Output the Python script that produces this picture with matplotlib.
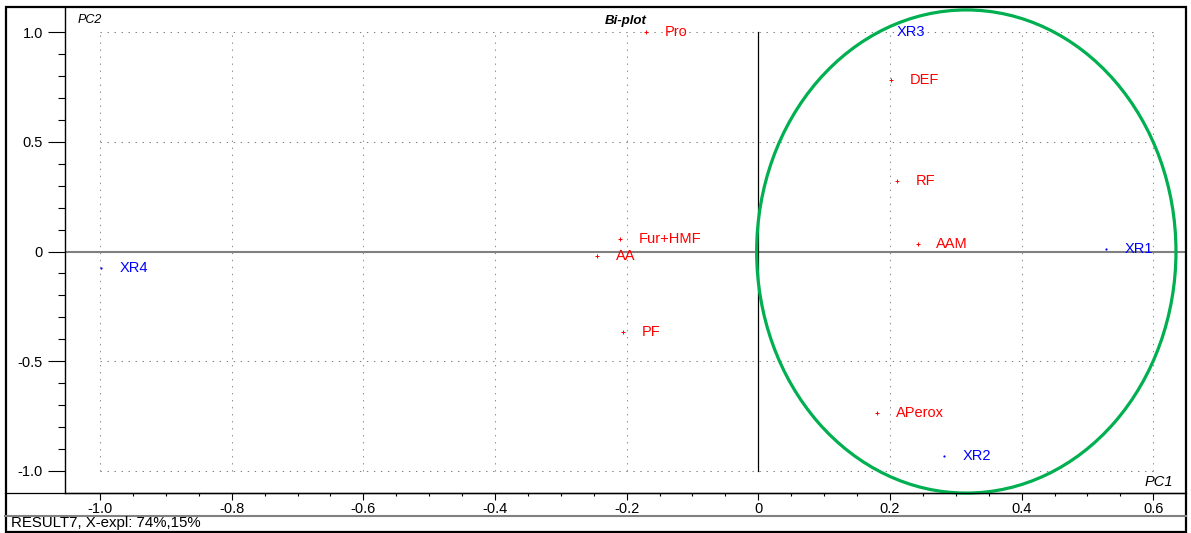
"""
biplot.py — PC1/PC2 bi-plot of variable loadings and sample scores.
"""

import matplotlib
matplotlib.use("Agg")
import matplotlib.pyplot as plt
from matplotlib.patches import Ellipse, Rectangle
from matplotlib.lines import Line2D
from matplotlib.ticker import FixedLocator, FixedFormatter

plt.rcParams["font.family"] = ["Liberation Sans", "DejaVu Sans"]
plt.rcParams["axes.unicode_minus"] = False

# ---------------------------------------------------------------------------
# Data
# ---------------------------------------------------------------------------
var_names = ["Pro", "DEF", "RF", "AAM", "Fur+HMF", "AA", "PF", "APerox"]
var_pc1 = [-0.171, 0.201, 0.211, 0.242, -0.210, -0.245, -0.206, 0.181]
var_pc2 = [1.000, 0.782, 0.322, 0.034, 0.056, -0.021, -0.369, -0.738]

obj_names = ["XR1", "XR2", "XR3", "XR4"]
obj_pc1 = [0.528, 0.282, 0.182, -0.998]
obj_pc2 = [0.010, -0.934, 1.000, -0.077]

x_ticks = [-1.0, -0.8, -0.6, -0.4, -0.2, 0.0, 0.2, 0.4, 0.6]
x_tick_labels = ["-1.0", "-0.8", "-0.6", "-0.4", "-0.2", "0", "0.2", "0.4", "0.6"]
y_ticks = [-1.0, -0.5, 0.0, 0.5, 1.0]
y_tick_labels = ["-1.0", "-0.5", "0", "0.5", "1.0"]

# group of samples highlighted on the plot (centre x, centre y, width, height)
cluster_ellipse = (0.316, 0.0, 0.637, 2.204)

status_text = "RESULT7, X-expl: 74%,15%"


# ---------------------------------------------------------------------------
# Plot
# ---------------------------------------------------------------------------
def draw_biplot(path="out.png"):
    W, H = 1191, 533
    fig = plt.figure(figsize=(W / 100, H / 100), dpi=100)
    fig.patch.set_facecolor("white")

    # plot area in pixels: x 65..1185, y 8..493 (from top)
    ax = fig.add_axes([65 / W, (H - 493) / H, 1120 / W, 485 / H])
    ax.set_xlim(-1.0532, 0.6482)
    ax.set_ylim(-1.1017, 1.1109)

    for side in ("top", "right"):
        ax.spines[side].set_visible(False)
    for side in ("left", "bottom"):
        ax.spines[side].set_linewidth(1.0)
        ax.spines[side].set_color("black")

    # ticks
    ax.xaxis.set_major_locator(FixedLocator(x_ticks))
    ax.xaxis.set_major_formatter(FixedFormatter(x_tick_labels))
    ax.yaxis.set_major_locator(FixedLocator(y_ticks))
    ax.yaxis.set_major_formatter(FixedFormatter(y_tick_labels))
    ax.xaxis.set_minor_locator(FixedLocator([-1.0 + 0.05 * i for i in range(33)]))
    ax.yaxis.set_minor_locator(FixedLocator([-1.0 + 0.1 * i for i in range(21)]))
    ax.tick_params(axis="x", which="major", direction="out", length=5, width=0.8,
                   pad=1.2, labelsize=10.5)
    ax.tick_params(axis="x", which="minor", direction="out", length=2, width=0.8)
    ax.tick_params(axis="y", which="major", direction="out", length=12, width=0.8,
                   pad=4.0, labelsize=10.5)
    ax.tick_params(axis="y", which="minor", direction="out", length=5, width=0.8)

    # dotted grid box spanning [-1, 0.6] x [-1, 1]
    dot = (0, (1.33, 5.4))
    for yv in (-1.0, -0.5, 0.5, 1.0):
        ax.plot([-1.0, 0.6], [yv, yv], color="#808080", lw=0.75, ls=dot, zorder=1)
    for xv in (-1.0, -0.8, -0.6, -0.4, -0.2, 0.2, 0.4, 0.6):
        ax.plot([xv, xv], [-1.0, 1.0], color="#909090", lw=0.75, ls=dot, zorder=1)

    # origin lines
    ax.axhline(0, color="#808080", lw=1.5, zorder=2)
    ax.plot([0, 0], [-1.0, 1.0], color="black", lw=0.9, zorder=2)

    # variable loadings (red) and sample scores (blue)
    ax.plot(var_pc1, var_pc2, ls="none", marker="+", ms=2.4, mew=0.7, color="#FF0000", zorder=3)
    for name, px, py in zip(var_names, var_pc1, var_pc2):
        ax.annotate(name, (px, py), xytext=(13.5, 0), textcoords="offset points",
                    va="center", ha="left", fontsize=10.5, color="#FF0000", zorder=4)
    ax.plot(obj_pc1, obj_pc2, ls="none", marker="o", ms=1.6, mew=0, color="#0000FF", zorder=3)
    for name, px, py in zip(obj_names, obj_pc1, obj_pc2):
        ax.annotate(name, (px, py), xytext=(13.5, 0), textcoords="offset points",
                    va="center", ha="left", fontsize=10.5, color="#0000FF", zorder=4)

    cx, cy, ew, eh = cluster_ellipse
    ax.add_patch(Ellipse((cx, cy), ew, eh, fill=False, edgecolor="#00B050",
                         lw=2.3, zorder=5, clip_on=False))

    # axis captions
    fig.text(78 / W, 1 - 20 / H, "PC2", fontsize=9, style="italic", va="center", ha="left")
    fig.text(626 / W, 1 - 21 / H, "Bi-plot", fontsize=9.5, style="italic",
             weight="bold", va="center", ha="center")
    fig.text(1173 / W, 1 - 482 / H, "PC1", fontsize=10.5, style="italic", va="center",
             ha="right")

    # frame, axis rule and status bar
    fig.add_artist(Line2D([5 / W, 1186 / W], [1 - 493 / H, 1 - 493 / H],
                          color="black", lw=0.9, transform=fig.transFigure))
    fig.add_artist(Line2D([5 / W, 1186 / W], [1 - 516 / H, 1 - 516 / H],
                          color="#808080", lw=1.5, transform=fig.transFigure))
    fig.add_artist(Rectangle((5.5 / W, 1 - 531.5 / H), 1180.5 / W, 524.5 / H,
                             fill=False, edgecolor="black", lw=1.6,
                             transform=fig.transFigure))
    fig.text(11 / W, 1 - 523.5 / H, status_text, fontsize=10.8, va="center", ha="left")

    fig.savefig(path, dpi=100, facecolor="white")
    plt.close(fig)


# ---------------------------------------------------------------------------
# Entry
# ---------------------------------------------------------------------------
if __name__ == "__main__":
    draw_biplot()
